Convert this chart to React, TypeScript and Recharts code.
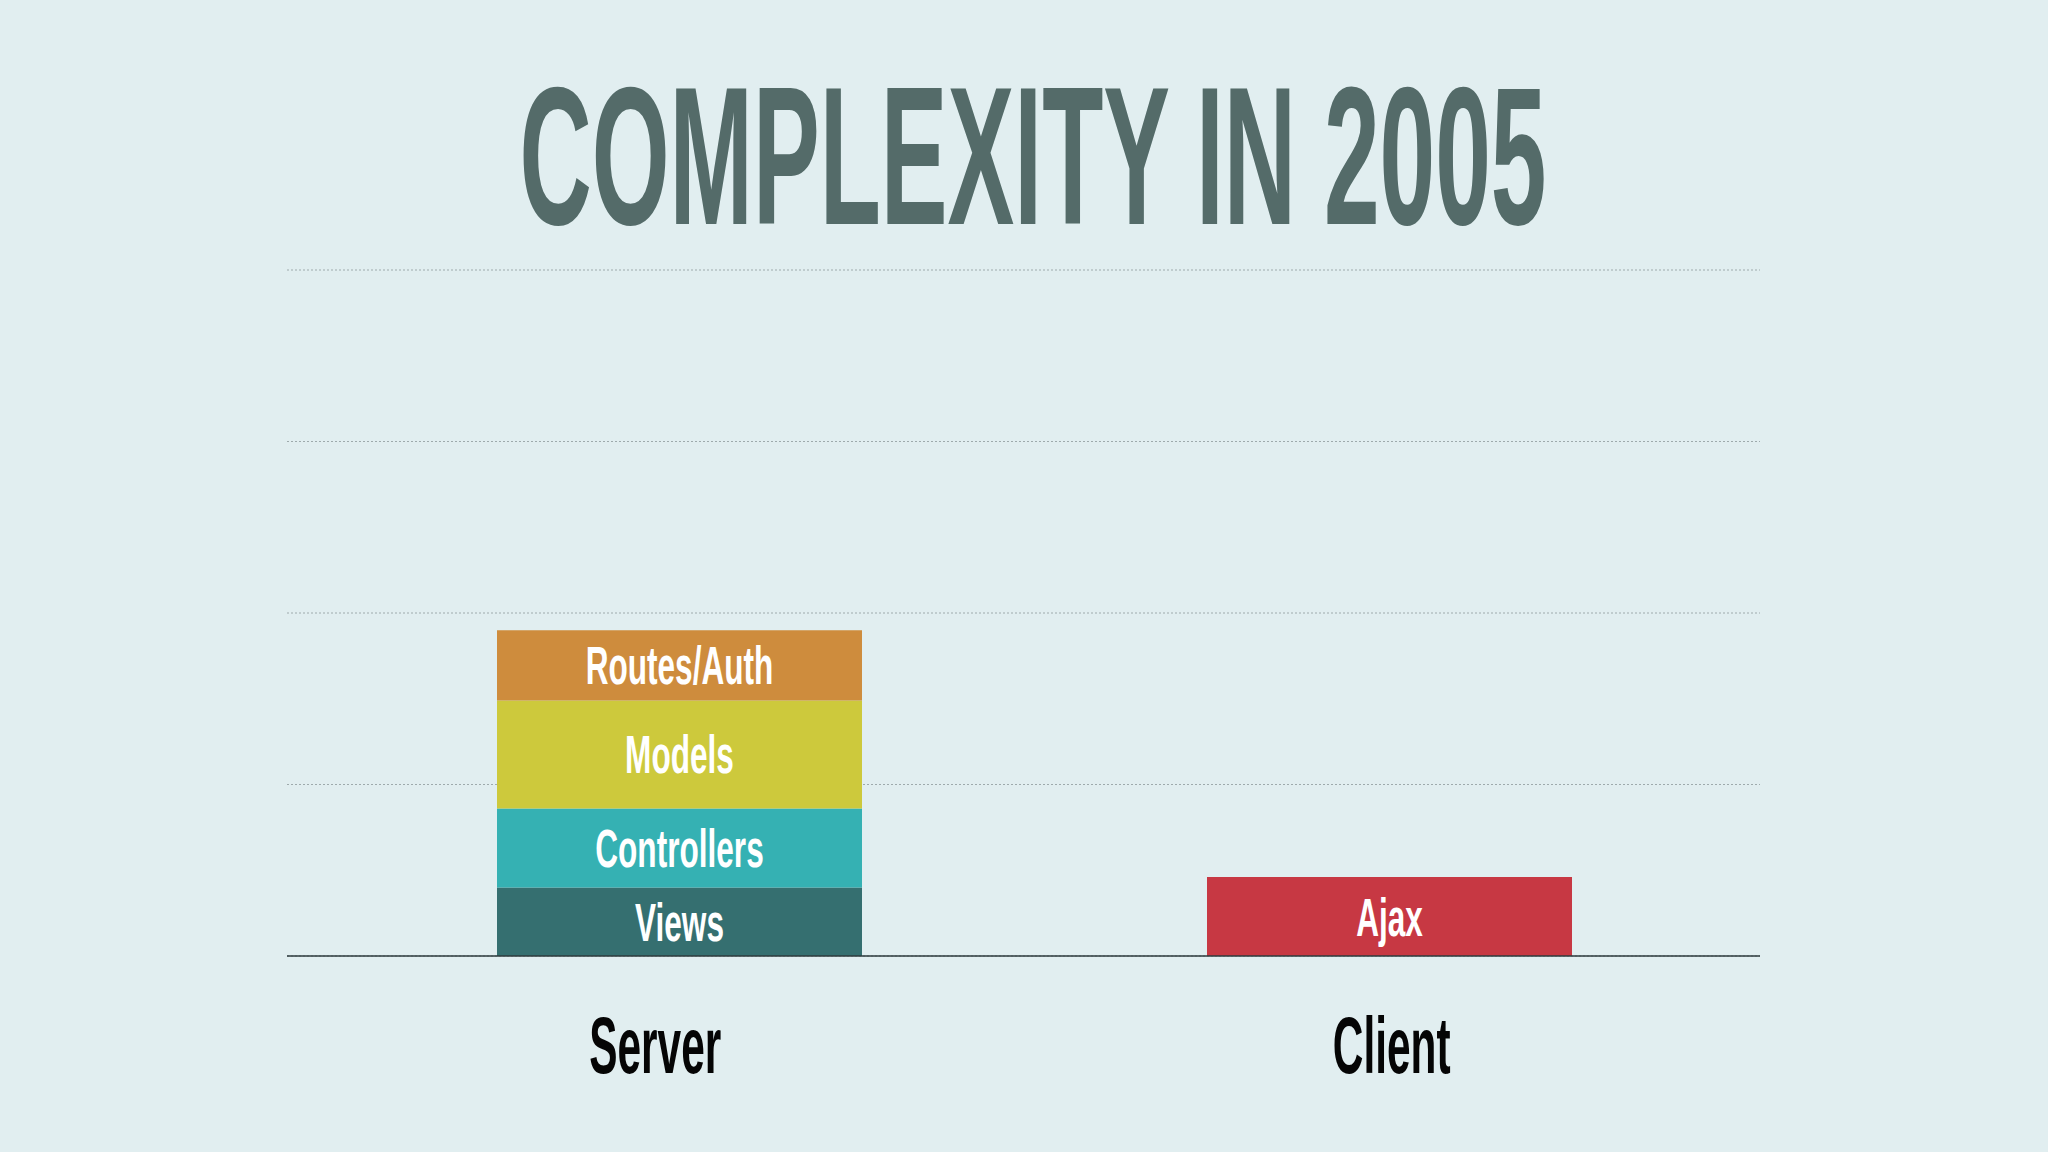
import { BarChart, Bar, XAxis, YAxis, CartesianGrid, LabelList } from "recharts";

const categories = ["Server", "Client"];
const views = [4.0, 0];
const controllers = [4.6, 0];
const models = [6.3, 0];
const routes = [4.1, 0];
const ajax = [0, 4.6];
const yTicks = [0, 10, 20, 30, 40];

const series = [
  { key: "views", label: "Views", color: "#356f70" },
  { key: "controllers", label: "Controllers", color: "#35b1b3" },
  { key: "models", label: "Models", color: "#cdc93c" },
  { key: "routes", label: "Routes/Auth", color: "#ce8c3d" },
  { key: "ajax", label: "Ajax", color: "#c73843" },
];

const data = categories.map((name, i) => ({
  name,
  views: views[i],
  controllers: controllers[i],
  models: models[i],
  routes: routes[i],
  ajax: ajax[i],
}));

const FONT = '"Liberation Sans", Arial, sans-serif';

function AxisTick({ x, y, payload }: any) {
  return (
    <g transform={`translate(${x} ${y + 117}) scale(0.53 1)`}>
      <text x={0} y={0} textAnchor="middle" fontFamily={FONT} fontWeight="bold" fontSize={80} fill="#050505">
        {payload.value}
      </text>
    </g>
  );
}

function segmentLabel(text: string) {
  return (props: any) => {
    const { x, y, width, height, value } = props;
    if (!value) return null;
    const cx = x + width / 2;
    const cy = y + height / 2;
    return (
      <g transform={`translate(${cx} ${cy + 19}) scale(0.585 1)`}>
        <text x={0} y={0} textAnchor="middle" fontFamily={FONT} fontWeight="bold" fontSize={54} fill="#ffffff">
          {text}
        </text>
      </g>
    );
  };
}

export default function App() {
  return (
    <div style={{ position: "absolute", top: 0, left: 0, width: 2048, height: 1152, background: "#e1eef0", overflow: "hidden" }}>
      <svg width={2048} height={300} style={{ position: "absolute", top: 0, left: 0 }}>
        <g transform="translate(1033 224) scale(0.508 1)">
          <text x={0} y={0} textAnchor="middle" fontFamily={FONT} fontWeight="bold" fontSize={197} fill="#546b69">
            COMPLEXITY IN 2005
          </text>
        </g>
      </svg>
      <div style={{ position: "absolute", top: 0, left: 0 }}>
        <BarChart width={2048} height={1152} data={data} margin={{ top: 270, right: 288, bottom: 76, left: 287 }}>
          <CartesianGrid xAxisId="labels" vertical={false} stroke="#9eaaac" strokeDasharray="2 2" />
          <XAxis xAxisId="bars" dataKey="name" hide height={0} padding={{ left: 37, right: 16 }} />
          <XAxis
            xAxisId="labels"
            dataKey="name"
            height={120}
            tickLine={false}
            tickSize={0}
            tickMargin={0}
            axisLine={{ stroke: "#2c3a3c", strokeWidth: 1.5 }}
            tick={<AxisTick />}
            interval={0}
          />
          <YAxis hide domain={[0, 40]} ticks={yTicks} />
          {series.map((s) => (
            <Bar key={s.key} xAxisId="bars" dataKey={s.key} stackId="a" fill={s.color} barSize={365} isAnimationActive={false}>
              <LabelList dataKey={s.key} content={segmentLabel(s.label)} />
            </Bar>
          ))}
        </BarChart>
      </div>
    </div>
  );
}
